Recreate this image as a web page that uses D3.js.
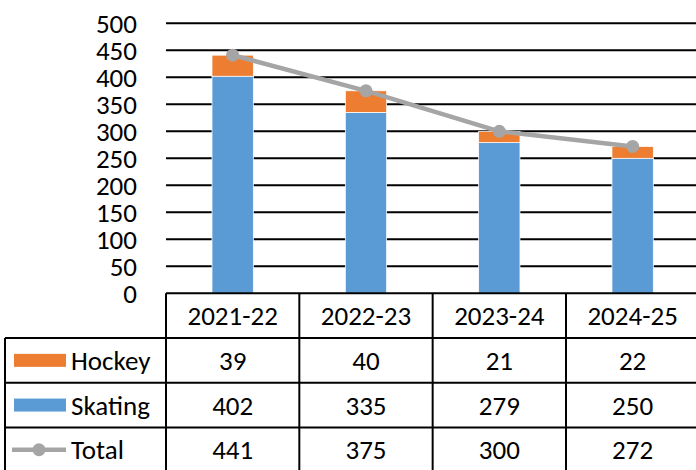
<!DOCTYPE html>
<html><head><meta charset="utf-8">
<script src="https://cdn.jsdelivr.net/npm/d3@7/dist/d3.min.js"></script>
<style>body{margin:0;background:#fff}svg{display:block}</style>
</head><body><svg id="c" width="696" height="470"></svg>
<script>
const categories = ["2021-22","2022-23","2023-24","2024-25"];
const hockey = [39,40,21,22];
const skating = [402,335,279,250];
const total = [441,375,300,272];
const yTicks = [0,50,100,150,200,250,300,350,400,450,500];
const seriesNames = ["Hockey","Skating","Total"];
const colors = {Hockey:"#ED7D31", Skating:"#5B9BD5", Total:"#A5A5A5"};

(function(){
const svg = d3.select("#c");
const font = "Carlito, Lato, sans-serif";
const fs = 27;
const dy = 9.5;
const pLeft = 166, pRight = 699.3, pTop = 23.3, base = 293.3;
const x = d3.scaleBand().domain(categories).range([pLeft, pRight]).padding(0);
const y = d3.scaleLinear().domain([0,500]).range([base, pTop]);
const barW = x.bandwidth()*0.31;

svg.append("g").selectAll("line").data(yTicks.filter(d=>d>0)).join("line")
  .attr("x1", pLeft).attr("x2", 696).attr("y1", d=>y(d)).attr("y2", d=>y(d))
  .attr("stroke","#000").attr("stroke-width",2);

svg.append("g").selectAll("text").data(yTicks).join("text")
  .attr("x",137).attr("y",d=>y(d)+dy).attr("text-anchor","end")
  .attr("font-family",font).attr("font-size",fs).attr("fill","#000").text(d=>d);

const bars = svg.append("g");
categories.forEach((c,i)=>{
  const cx = x(c)+x.bandwidth()/2;
  bars.append("rect").attr("x",cx-barW/2).attr("width",barW)
    .attr("y",y(skating[i])).attr("height",y(0)-y(skating[i]))
    .attr("fill",colors.Skating).attr("stroke","#fff").attr("stroke-width",0.75);
  bars.append("rect").attr("x",cx-barW/2).attr("width",barW)
    .attr("y",y(skating[i]+hockey[i])).attr("height",y(skating[i])-y(skating[i]+hockey[i]))
    .attr("fill",colors.Hockey).attr("stroke","#fff").attr("stroke-width",0.75);
});

const line = d3.line().x((d,i)=>x(categories[i])+x.bandwidth()/2).y(d=>y(d));
svg.append("path").datum(total).attr("d",line).attr("fill","none")
  .attr("stroke",colors.Total).attr("stroke-width",4.5).attr("stroke-linejoin","round");
svg.append("g").selectAll("circle").data(total).join("circle")
  .attr("cx",(d,i)=>x(categories[i])+x.bandwidth()/2).attr("cy",d=>y(d)).attr("r",6.5)
  .attr("fill",colors.Total);

const rowH = 44.7;
const tbl = svg.append("g").attr("stroke","#000").attr("stroke-width",2);
const rowsN = 4;
const bottom = base + rowH*rowsN;
tbl.append("line").attr("x1",pLeft).attr("x2",696).attr("y1",base).attr("y2",base);
for(let r=1;r<=rowsN;r++){
  tbl.append("line").attr("x1",5).attr("x2",696).attr("y1",base+rowH*r).attr("y2",base+rowH*r);
}
tbl.append("line").attr("x1",5).attr("x2",5).attr("y1",base+rowH).attr("y2",bottom);
categories.forEach(c=>{
  tbl.append("line").attr("x1",x(c)).attr("x2",x(c)).attr("y1",base).attr("y2",bottom);
});
tbl.append("line").attr("x1",pRight).attr("x2",pRight).attr("y1",base).attr("y2",bottom);

const txt = svg.append("g").attr("font-family",font).attr("font-size",fs).attr("fill","#000");
categories.forEach(c=>{
  txt.append("text").attr("x",x(c)+x.bandwidth()/2).attr("y",base+rowH/2+dy)
    .attr("text-anchor","middle").text(c);
});
const rowsData = [hockey, skating, total];
rowsData.forEach((arr,r)=>{
  const cy = base+rowH*(r+1)+rowH/2;
  arr.forEach((v,i)=>{
    txt.append("text").attr("x",x(categories[i])+x.bandwidth()/2).attr("y",cy+dy)
      .attr("text-anchor","middle").text(v);
  });
  const name = seriesNames[r];
  if(name==="Total"){
    svg.append("line").attr("x1",12).attr("x2",66).attr("y1",cy).attr("y2",cy)
      .attr("stroke",colors.Total).attr("stroke-width",4.5);
    svg.append("circle").attr("cx",39).attr("cy",cy).attr("r",6.5).attr("fill",colors.Total);
  } else {
    svg.append("rect").attr("x",14).attr("y",cy-6.5).attr("width",52).attr("height",13)
      .attr("fill",colors[name]);
  }
  txt.append("text").attr("x",71).attr("y",cy+dy).text(name);
});
})();
</script></body></html>
